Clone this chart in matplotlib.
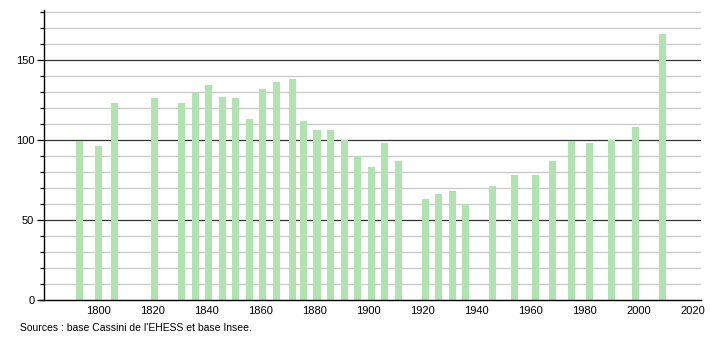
import matplotlib
matplotlib.use("Agg")
import matplotlib.pyplot as plt
from matplotlib.ticker import MultipleLocator

years = [1793, 1800, 1806, 1821, 1831, 1836, 1841, 1846, 1851, 1856, 1861, 1866,
         1872, 1876, 1881, 1886, 1891, 1896, 1901, 1906, 1911, 1921, 1926, 1931,
         1936, 1946, 1954, 1962, 1968, 1975, 1982, 1990, 1999, 2009]
population = [99, 96, 123, 126, 123, 129, 134, 127, 126, 113, 132, 136,
              138, 112, 106, 106, 100, 90, 83, 98, 87, 63, 66, 68,
              60, 71, 78, 78, 87, 99, 98, 100, 108, 166]
x_ticks = [1800, 1820, 1840, 1860, 1880, 1900, 1920, 1940, 1960, 1980, 2000, 2020]
y_ticks = [0, 50, 100, 150]
source = "Sources : base Cassini de l'EHESS et base Insee."

plt.rcParams['font.family'] = ['Liberation Sans', 'DejaVu Sans']

fig = plt.figure(figsize=(7.1, 3.4), dpi=100)
ax = fig.add_axes([0.062, 0.1176, 0.925, 0.8524])

ax.set_xlim(1780, 2023)
ax.set_ylim(0, 181)

# grid
for v in range(10, 181, 10):
    if v % 50 == 0:
        ax.axhline(v, color='#333333', lw=0.9, zorder=1)
    else:
        ax.axhline(v, color='#c8c8c8', lw=0.9, zorder=1)

ax.bar(years, population, width=2.6, color='#b2e2b2', edgecolor='none', zorder=2)

ax.set_yticks(y_ticks)
ax.yaxis.set_minor_locator(MultipleLocator(10))
ax.set_xticks(x_ticks)
ax.set_xticklabels([str(t) for t in x_ticks])
ax.tick_params(axis='y', which='major', length=5, width=0.9, labelsize=8, pad=2, color='black')
ax.tick_params(axis='y', which='minor', length=3, width=0.9, color='black')
ax.tick_params(axis='x', which='major', length=0, labelsize=8, pad=4)

for s in ['top', 'right']:
    ax.spines[s].set_visible(False)
ax.spines['left'].set_linewidth(1.0)
ax.spines['bottom'].set_linewidth(1.0)
ax.spines['bottom'].set_bounds(1778.5, 2023)

fig.text(20 / 710, 1 - 328 / 340, source, fontsize=7.5, va='center', ha='left')

fig.savefig("out.png", dpi=100)
